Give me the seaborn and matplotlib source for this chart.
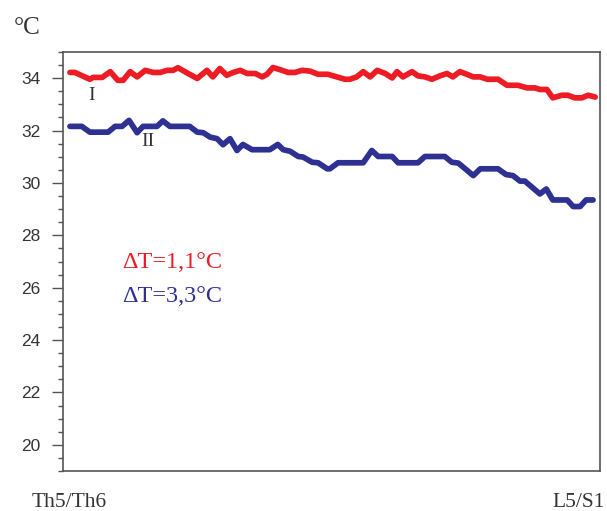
import numpy as np
import pandas as pd
import seaborn as sns
import matplotlib.pyplot as plt

# curve I (red) and curve II (blue), position along the segment (0-100) and temperature
pos_1 = [1.3, 2.2, 5.0, 5.6, 7.3, 8.8, 10.2, 11.2, 12.5, 13.8, 15.3, 16.8, 18.1, 19.4,
         20.5, 21.4, 23.3, 25.0, 26.8, 27.9, 29.2, 30.5, 31.7, 33.0, 34.3, 35.8, 37.1,
         38.0, 39.1, 40.8, 41.9, 43.2, 44.5, 46.0, 47.5, 49.3, 51.0, 52.5, 53.4, 54.7,
         55.9, 57.2, 58.5, 60.0, 61.3, 62.2, 63.3, 65.0, 66.1, 67.4, 68.7, 70.2, 71.5,
         72.6, 73.9, 75.2, 76.4, 77.7, 79.0, 81.0, 82.7, 84.7, 86.4, 87.9, 88.8, 90.1,
         91.2, 92.9, 94.0, 95.3, 96.6, 97.8, 99.1]
temp_1 = [34.22, 34.22, 33.96, 34.03, 34.03, 34.25, 33.92, 33.92, 34.25, 34.05, 34.30,
          34.22, 34.22, 34.30, 34.30, 34.40, 34.18, 33.99, 34.30, 34.05, 34.37, 34.11,
          34.22, 34.30, 34.18, 34.18, 34.05, 34.15, 34.41, 34.30, 34.22, 34.22, 34.30,
          34.27, 34.15, 34.15, 34.05, 33.96, 33.96, 34.05, 34.25, 34.05, 34.30, 34.18,
          34.01, 34.25, 34.05, 34.25, 34.09, 34.05, 33.96, 34.09, 34.18, 34.05, 34.25,
          34.15, 34.05, 34.05, 33.96, 33.96, 33.73, 33.73, 33.63, 33.63, 33.57, 33.57,
          33.25, 33.35, 33.35, 33.25, 33.25, 33.35, 33.28]

pos_2 = [1.3, 3.5, 5.0, 8.4, 9.7, 11.0, 12.3, 13.8, 14.9, 17.5, 18.6, 19.9, 23.6, 25.0,
         26.1, 27.4, 28.7, 29.8, 31.1, 32.4, 33.5, 35.2, 38.5, 40.0, 41.0, 42.3, 43.8,
         44.7, 46.4, 47.5, 49.2, 49.7, 51.2, 55.9, 57.5, 58.7, 61.3, 62.4, 66.1, 67.4,
         71.1, 72.4, 73.6, 74.9, 76.4, 77.7, 81.0, 82.5, 83.8, 85.1, 86.0, 87.5, 88.8,
         90.0, 91.2, 93.9, 95.0, 96.3, 97.4, 98.7]
temp_2 = [32.16, 32.16, 31.94, 31.94, 32.16, 32.16, 32.39, 31.92, 32.16, 32.16, 32.37,
          32.16, 32.16, 31.94, 31.92, 31.75, 31.69, 31.46, 31.69, 31.24, 31.47, 31.27,
          31.27, 31.47, 31.27, 31.21, 31.01, 30.99, 30.79, 30.77, 30.54, 30.54, 30.77,
          30.77, 31.24, 31.01, 31.01, 30.77, 30.77, 31.01, 31.01, 30.79, 30.76, 30.54,
          30.28, 30.54, 30.54, 30.32, 30.28, 30.07, 30.07, 29.81, 29.58, 29.77, 29.35,
          29.35, 29.10, 29.10, 29.35, 29.35]

y_ticks = [20, 22, 24, 26, 28, 30, 32, 34]
delta_labels = ["ΔT=1,1°C", "ΔT=3,3°C"]
end_labels = ["Th5/Th6", "L5/S1"]

RED = "#ED1C24"
BLUE = "#2E3192"
GREY = "#333333"

sns.set_style("ticks")
plt.rcParams['font.family'] = ['Liberation Sans', 'DejaVu Sans']

fig = plt.figure(figsize=(6.07, 5.11), dpi=100)
ax = fig.add_axes([0.1038, 0.0783, 0.8847, 0.8199])

sns.lineplot(x=pos_1, y=temp_1, color=RED, linewidth=4.1, ax=ax)
sns.lineplot(x=pos_2, y=temp_2, color=BLUE, linewidth=4.1, ax=ax)

ax.set_xlim(0, 100)
ax.set_ylim(19, 35)
ax.set_xticks([])
ax.set_yticks(y_ticks)
ax.set_yticks(np.arange(19, 35.01, 0.5), minor=True)
ax.tick_params(axis='y', which='major', length=8, width=1, color="#555555",
               labelsize=12.5, labelcolor=GREY, pad=8)
ax.tick_params(axis='y', which='minor', length=3.5, width=1, color="#555555")
for s in ax.spines.values():
    s.set_visible(True)
    s.set_color("#555555")
    s.set_linewidth(1.2)

serif = ['Liberation Serif', 'DejaVu Serif']
ax.text(5.4, 33.35, "I", family=serif, fontsize=14, color=GREY, ha='center', va='center')
ax.text(15.8, 31.6, "II", family=serif, fontsize=14, color=GREY, ha='center', va='center')
ax.text(11.0, 26.95, delta_labels[0], family=serif, fontsize=17.5, color=RED, ha='left', va='center')
ax.text(11.0, 25.65, delta_labels[1], family=serif, fontsize=17.5, color=BLUE, ha='left', va='center')

fig.text(0.022, 0.945, "°C", family=serif, fontsize=18, color=GREY, ha='left', va='center')
fig.text(0.052, 0.016, end_labels[0], family=serif, fontsize=15.5, color=GREY, ha='left', va='center')
fig.text(0.997, 0.016, end_labels[1], family=serif, fontsize=15.5, color=GREY, ha='right', va='center')

fig.savefig("out.png", dpi=100)
